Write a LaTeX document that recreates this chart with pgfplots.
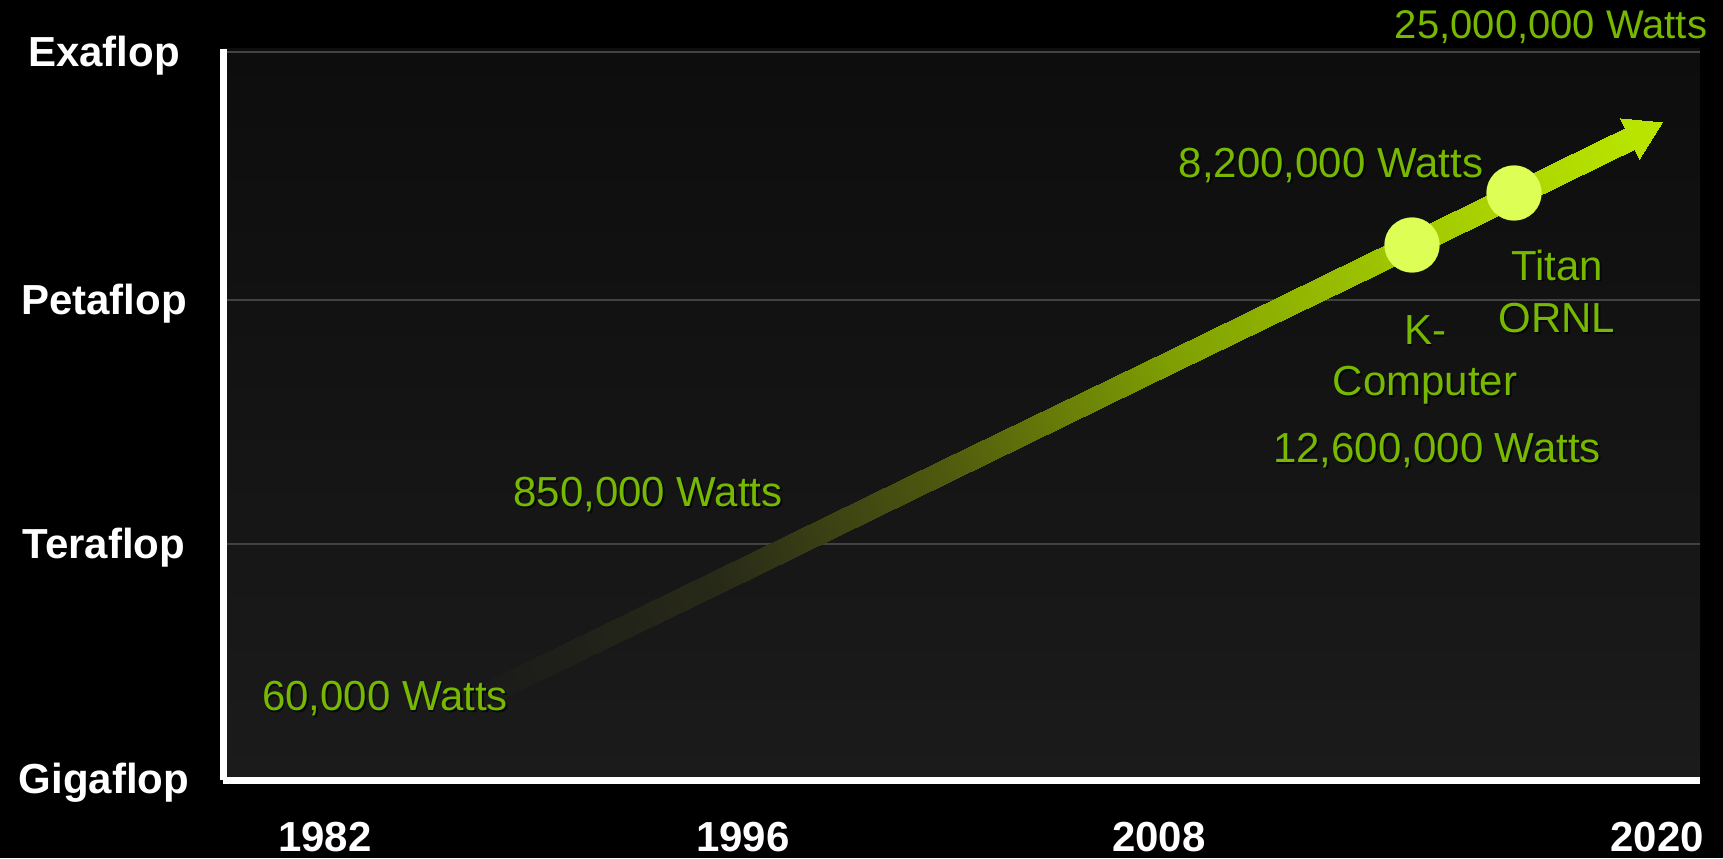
\documentclass[border=0pt]{standalone}
\usepackage{fontspec}
\setmainfont{Liberation Sans}
\usepackage{pgfplots}
\pgfplotsset{compat=1.18}
\definecolor{nvgreen}{RGB}{118,185,0}
\definecolor{dotcol}{RGB}{221,255,85}
\definecolor{gridcol}{RGB}{66,66,66}
\definecolor{bgtop}{RGB}{13,13,13}
\definecolor{bgbot}{RGB}{27,27,27}
\newcommand{\wlabel}[4][21]{%
  \node[font=\fontsize{#1}{#1}\selectfont, text=black, opacity=0.65, inner sep=0pt] at ([xshift=0.9pt,yshift=-0.9pt]axis cs:#2,#3) {#4};
  \node[font=\fontsize{#1}{#1}\selectfont, text=nvgreen, inner sep=0pt] at (axis cs:#2,#3) {#4};
}
\begin{document}
\begin{tikzpicture}[x=1pt,y=1pt]
\path[use as bounding box, fill=black] (0,0) rectangle (861.5,429);
\begin{axis}[
  at={(111.5pt,39pt)}, anchor=south west,
  scale only axis, width=738.5pt, height=365.5pt,
  xmin=223, xmax=1700, ymin=0, ymax=731,
  clip=false,
  axis x line*=bottom, axis y line*=left,
  axis line style={-, white, line width=3.5pt},
  axis background/.style={shade, top color=bgtop, bottom color=bgbot},
  major tick length=0pt,
  xtick={325,743,1159,1657},
  xticklabels={1982,1996,2008,2020},
  ytick={0,236,480,728},
  yticklabels={Gigaflop,Teraflop,Petaflop,Exaflop},
  xticklabel style={font=\bfseries\fontsize{21}{21}\selectfont, text=white, anchor=center, yshift=-28.5pt, inner sep=0pt},
  yticklabel style={font=\bfseries\fontsize{21}{21}\selectfont, text=white, anchor=center, xshift=-59.5pt, yshift=-1.6pt, inner sep=0pt},
  ymajorgrids, grid style={gridcol, line width=1.2pt},
  colormap={arrowmap}{rgb255(0cm)=(27,27,26); rgb255(1cm)=(40,42,24); rgb255(2cm)=(80,90,14); rgb255(3cm)=(128,160,2); rgb255(4cm)=(160,200,0); rgb255(5cm)=(184,228,0)},
  point meta min=0, point meta max=1,
]
% gradient arrow shaft and head (triangles)
\addplot[patch, shader=interp, point meta=explicit] table[x=x, y=y, meta=c] {
x y c
484.98 98.35 0
495.02 77.65 0
712.98 209.05 0.2
495.02 77.65 0
723.02 188.35 0.2
712.98 209.05 0.2
712.98 209.05 0.2
723.02 188.35 0.2
940.98 319.75 0.4
723.02 188.35 0.2
951.02 299.05 0.4
940.98 319.75 0.4
940.98 319.75 0.4
951.02 299.05 0.4
1168.98 430.45 0.6
951.02 299.05 0.4
1179.02 409.75 0.6
1168.98 430.45 0.6
1168.98 430.45 0.6
1179.02 409.75 0.6
1396.98 541.15 0.8
1179.02 409.75 0.6
1407.02 520.45 0.8
1396.98 541.15 0.8
1396.98 541.15 0.8
1407.02 520.45 0.8
1630.68 654.65 1
1407.02 520.45 0.8
1640.72 633.95 1
1630.68 654.65 1
1662 658 1
1620 662 1
1639 621 1
};
% K-Computer and Titan
\addplot[only marks, draw=dotcol, mark=*, mark size=13.75pt, mark options={draw=dotcol, fill=dotcol, line width=0.1pt}] coordinates {(1412,535) (1514,587)};
\wlabel[20]{1551}{753}{25,000,000 Watts}
\wlabel{1331}{614}{8,200,000 Watts}
\wlabel{1557}{515}{Titan}
\wlabel{1557}{462}{ORNL}
\wlabel{1425}{450}{K-}
\wlabel{1425}{395}{Computer}
\wlabel{1437}{329}{12,600,000 Watts}
\wlabel{648}{285}{850,000 Watts}
\wlabel{385}{81}{60,000 Watts}
\end{axis}
\end{tikzpicture}
\end{document}
